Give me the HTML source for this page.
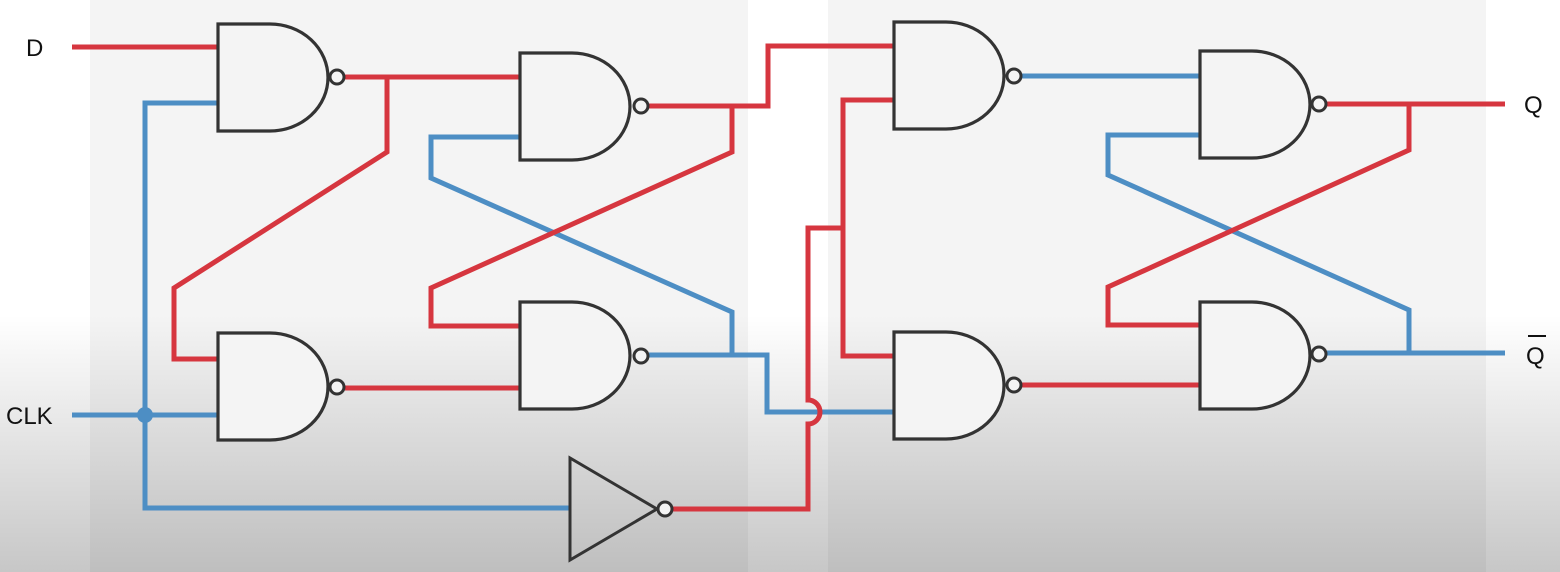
<!DOCTYPE html>
<html><head><style>
html,body{margin:0;padding:0;width:1560px;height:572px;overflow:hidden;background:#fff}
</style></head><body>
<svg width="1560" height="572" viewBox="0 0 1560 572" xmlns="http://www.w3.org/2000/svg">
<defs>
<linearGradient id="g" x1="0" y1="0" x2="0" y2="1">
<stop offset="0" stop-color="#000" stop-opacity="0"/>
<stop offset="0.55" stop-color="#000" stop-opacity="0"/>
<stop offset="1" stop-color="#000" stop-opacity="0.22"/>
</linearGradient>
<g id="nand">
<path d="M0,0 H52 A58,53.5 0 0 1 52,107 H0 Z" fill="#f4f4f4" stroke="#333" stroke-width="3.2"/>
</g>
</defs>
<rect x="90" y="0" width="658" height="572" fill="#f4f4f4"/>
<rect x="828" y="0" width="658" height="572" fill="#f4f4f4"/>
<rect x="0" y="0" width="1560" height="572" fill="url(#g)"/>
<g fill="none" stroke-width="5" stroke-linejoin="miter">
<!-- blue -->
<g stroke="#4d8ec4">
<polyline points="72,415 218,415"/>
<polyline points="218,103 145,103 145,508 570,508"/>
<polyline points="520,137 431,137 431,178 732,312 732,355"/>
<polyline points="649,355 767,355 767,412 894,412"/>
<polyline points="1022,76 1200,76"/>
<polyline points="1200,135 1108,135 1108,175 1409,310 1409,353"/>
<polyline points="1327,353 1505,353"/>
</g>
<!-- red -->
<g stroke="#d6363f">
<polyline points="72,47 218,47"/>
<polyline points="345,77 520,77"/>
<polyline points="387,77 387,152 174,288 174,359 218,359"/>
<polyline points="345,388 520,388"/>
<polyline points="649,106 768,106 768,46 894,46"/>
<polyline points="732,106 732,152 431,288 431,326 520,326"/>
<path d="M673,509 H808 V424 A12,12 0 0 0 808,400 V228 H843"/>
<polyline points="894,100 843,100 843,356 894,356"/>
<polyline points="1327,104 1505,104"/>
<polyline points="1409,104 1409,150 1108,287 1108,325 1200,325"/>
<polyline points="1022,385 1200,385"/>
</g>
</g>
<circle cx="145" cy="415" r="8" fill="#4d8ec4"/>
<use href="#nand" x="218" y="24"/>
<use href="#nand" x="520" y="53"/>
<use href="#nand" x="218" y="333"/>
<use href="#nand" x="520" y="302"/>
<use href="#nand" x="894" y="22"/>
<use href="#nand" x="1200" y="51"/>
<use href="#nand" x="894" y="332"/>
<use href="#nand" x="1200" y="302"/>
<g fill="#f4f4f4" stroke="#333" stroke-width="3">
<circle cx="337" cy="77" r="7"/>
<circle cx="641" cy="106" r="7"/>
<circle cx="337" cy="387" r="7"/>
<circle cx="641" cy="356" r="7"/>
<circle cx="1014" cy="76" r="7"/>
<circle cx="1319" cy="104" r="7"/>
<circle cx="1014" cy="385" r="7"/>
<circle cx="1319" cy="354" r="7"/>
<path d="M570,458 L570,560 L657,509 Z" fill="none"/>
<circle cx="665" cy="509" r="7"/>
</g>
<g font-family="Liberation Sans, sans-serif" font-size="24" fill="#111">
<text x="26" y="56">D</text>
<text x="6" y="424">CLK</text>
<text x="1524" y="113">Q</text>
<text x="1526" y="364">Q</text>
</g>
<line x1="1528" y1="336" x2="1546" y2="336" stroke="#111" stroke-width="2"/>
</svg>
</body></html>
